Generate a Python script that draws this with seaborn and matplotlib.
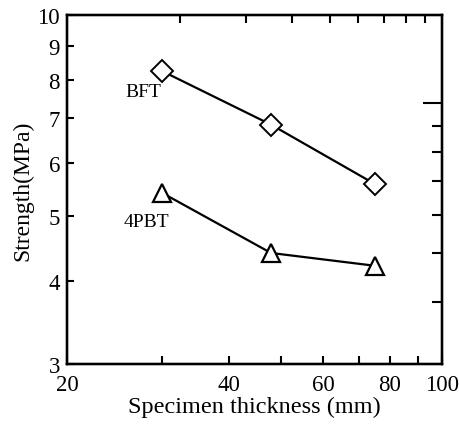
import numpy as np
import pandas as pd
import matplotlib
matplotlib.use("Agg")
import matplotlib.pyplot as plt
import seaborn as sns

# data
thickness = [30, 48, 75]
bft = [8.25, 6.85, 5.58]
pbt4 = [5.42, 4.40, 4.21]

x_major = [20, 40, 60, 80, 100]
x_minor = [30, 50, 70, 90]
y_major = [3, 4, 5, 6, 7, 8, 9, 10]
# odd ticks on the top and right frame of the original
top_ticks = [32.5, 43.2, 52.6, 61.7, 69.8, 78, 85.8, 93]
right_major = [7.38]
right_minor = [6.82, 6.23, 5.64, 5.02, 4.40, 3.72]

df = pd.DataFrame({
    "thickness": thickness * 2,
    "strength": bft + pbt4,
    "test": ["BFT"] * 3 + ["4PBT"] * 3,
})

sns.set_style("ticks", {"axes.edgecolor": "black", "text.color": "black",
                        "axes.labelcolor": "black", "xtick.color": "black",
                        "ytick.color": "black"})
plt.rcParams["font.family"] = ["Liberation Serif", "DejaVu Serif"]

fig = plt.figure(figsize=(4.6, 4.27), dpi=100)
ax = fig.add_axes([0.1457, 0.1452, 0.8153, 0.8173])

sns.lineplot(data=df[df.test == "BFT"], x="thickness", y="strength", ax=ax,
             color="black", marker="D", markersize=11, mfc="white",
             mec="black", mew=1.4, lw=1.6, errorbar=None)
sns.lineplot(data=df[df.test == "4PBT"], x="thickness", y="strength", ax=ax,
             color="black", marker="^", markersize=13, mfc="white",
             mec="black", mew=1.6, lw=1.6, errorbar=None)

ax.set_xscale("log")
ax.set_yscale("log")
ax.set_xlim(20, 100)
ax.set_ylim(3, 10)

ax.xaxis.set_major_locator(matplotlib.ticker.FixedLocator(x_major))
ax.xaxis.set_major_formatter(matplotlib.ticker.FixedFormatter([str(v) for v in x_major]))
ax.xaxis.set_minor_locator(matplotlib.ticker.FixedLocator(x_minor))
ax.xaxis.set_minor_formatter(matplotlib.ticker.NullFormatter())
ax.yaxis.set_major_locator(matplotlib.ticker.FixedLocator(y_major))
ax.yaxis.set_major_formatter(matplotlib.ticker.FixedFormatter([str(v) for v in y_major]))
ax.yaxis.set_minor_locator(matplotlib.ticker.NullLocator())

ax.tick_params(axis="x", which="both", direction="in", length=6, width=1.5,
               labelsize=16.5, pad=7, top=False, colors="black")
ax.tick_params(axis="y", which="both", direction="in", length=5, width=1.5,
               labelsize=16.5, pad=5, right=False, colors="black")

for s in ax.spines.values():
    s.set_linewidth(1.6)
    s.set_color("black")

# top frame ticks
axt = ax.twiny()
axt.set_xscale("log")
axt.set_xlim(20, 100)
axt.xaxis.set_major_locator(matplotlib.ticker.FixedLocator(top_ticks))
axt.xaxis.set_minor_locator(matplotlib.ticker.NullLocator())
axt.xaxis.set_major_formatter(matplotlib.ticker.NullFormatter())
axt.tick_params(axis="x", direction="in", length=6, width=1.5, colors="black")

# right frame ticks
axr = ax.twinx()
axr.set_yscale("log")
axr.set_ylim(3, 10)
axr.yaxis.set_major_locator(matplotlib.ticker.FixedLocator(right_major))
axr.yaxis.set_minor_locator(matplotlib.ticker.FixedLocator(right_minor))
axr.yaxis.set_major_formatter(matplotlib.ticker.NullFormatter())
axr.yaxis.set_minor_formatter(matplotlib.ticker.NullFormatter())
axr.tick_params(axis="y", which="major", direction="in", length=14, width=1.5, colors="black")
axr.tick_params(axis="y", which="minor", direction="in", length=7, width=1.5, colors="black")
for a in (axt, axr):
    for s in a.spines.values():
        s.set_linewidth(1.6)
        s.set_color("black")

ax.text(25.7, 7.55, "BFT", fontsize=14, color="black")
ax.text(25.5, 4.83, "4PBT", fontsize=14, color="black")

ax.set_xlabel("Specimen thickness (mm)", fontsize=17.5, labelpad=1, color="black")
ax.set_ylabel("Strength(MPa)", fontsize=17, labelpad=3, color="black")

fig.savefig("out.png", dpi=100)
